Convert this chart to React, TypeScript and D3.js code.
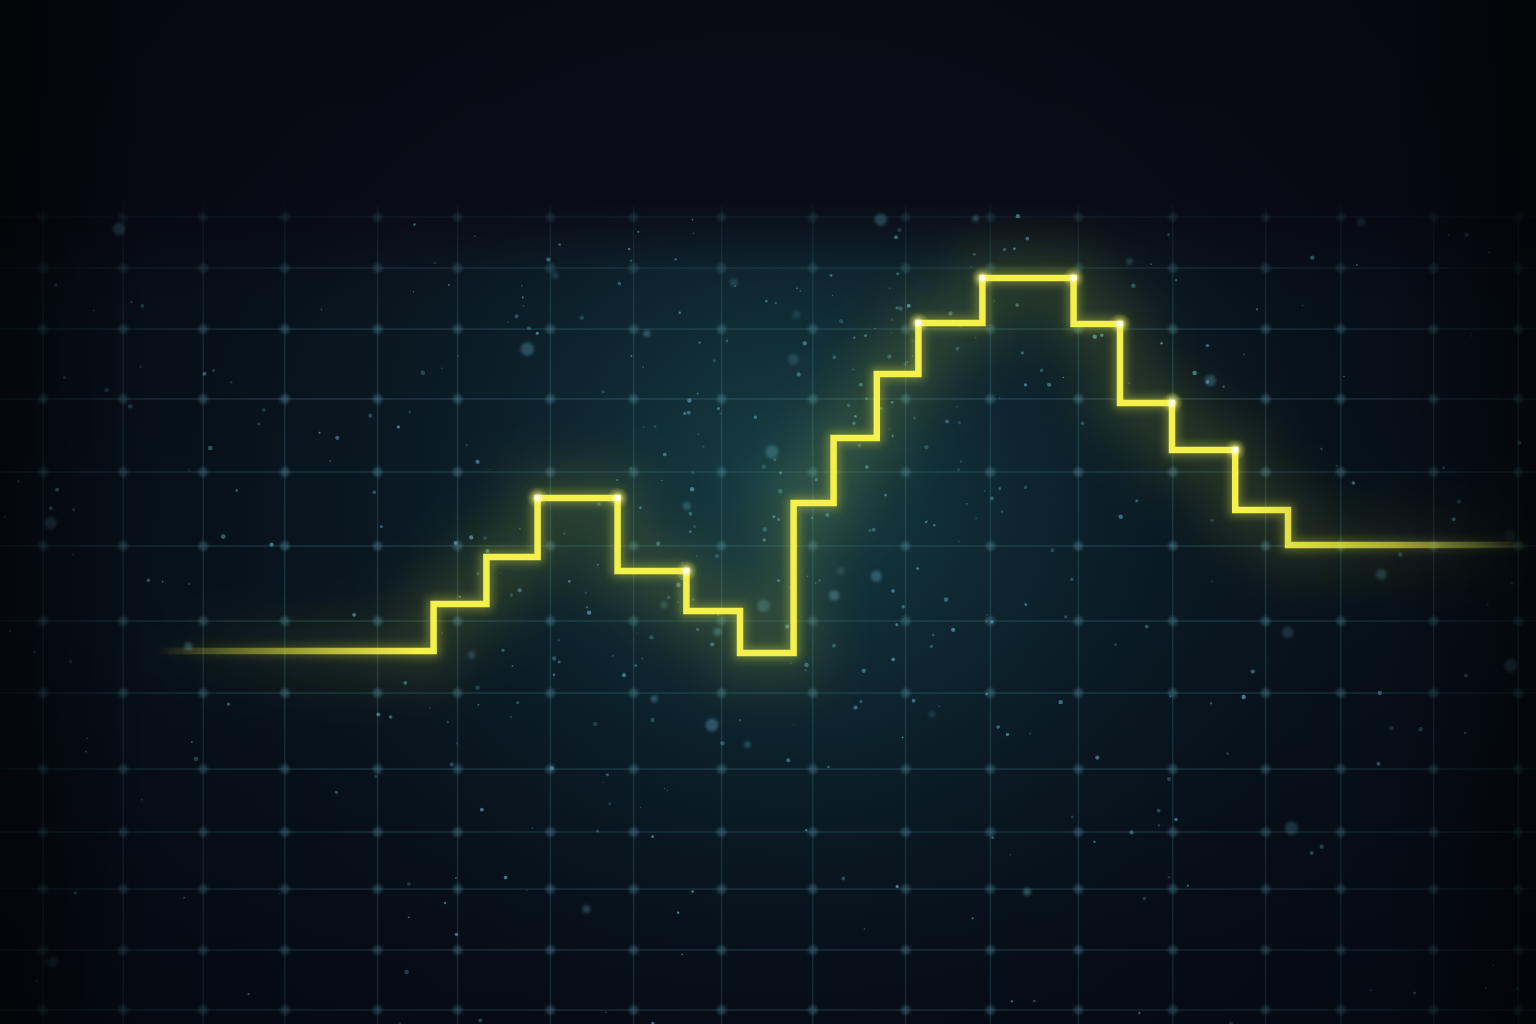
import React, { useMemo } from "react";
import * as d3 from "d3";

// ---- data (chart units) ----
const stepTimes = [9.7, 27.1, 30.4, 33.6, 38.6, 42.9, 46.25, 49.6, 52.1, 54.8, 57.4, 61.4, 67.1, 70.0, 73.25, 77.2, 80.5, 95.6];
const stepValues = [9.8, 19.2, 28.6, 40.4, 25.8, 17.8, 9.4, 39.4, 52.4, 65.2, 75.4, 84.4, 75.2, 59.4, 50.0, 38.0, 31.0, 31.0];
const highlightSteps = [3, 4, 5, 10, 11, 12, 13, 14, 15];
const gridTimes = [2.7, 7.7, 12.7, 17.8, 23.6, 28.6, 34.4, 39.6, 45.1, 50.8, 56.6, 61.9, 67.4, 73.3, 79.1, 83.8, 89.6, 94.9];
const gridValues = [96.6, 86.4, 74.2, 60.2, 45.6, 30.8, 15.8, 1.4, -13.8, -26.4, -37.8, -50.0, -62.0];

const W = 1536;
const H = 1024;

function mulberry32(a: number) {
  return function () {
    a |= 0;
    a = (a + 0x6d2b79f5) | 0;
    let t = Math.imul(a ^ (a >>> 15), 1 | a);
    t = (t + Math.imul(t ^ (t >>> 7), 61 | t)) ^ t;
    return ((t ^ (t >>> 14)) >>> 0) / 4294967296;
  };
}

export default function App() {
  const x = d3.scaleLinear().domain([0, 96]).range([0, W]);
  const y = d3.scaleLinear().domain([0, 100]).range([700, 200]);

  const pts = stepTimes.map((t, i) => [t, stepValues[i]] as [number, number]);
  const line = d3
    .line<[number, number]>()
    .x((d) => x(d[0]))
    .y((d) => y(d[1]))
    .curve(d3.curveStepAfter);
  const pathD = line(pts) || "";

  const dots = highlightSteps.map((i) => ({
    cx: x(stepTimes[i]),
    cy: y(Math.max(stepValues[i - 1], stepValues[i])),
  }));

  const gridTop = 205;

  // decorative particles (deterministic)
  const particles = useMemo(() => {
    const rnd = mulberry32(1234567);
    const out: { x: number; y: number; r: number; o: number; blur: boolean }[] = [];
    for (let i = 0; i < 460; i++) {
      let px = rnd() * W;
      let py = 215 + rnd() * (H - 215);
      if (rnd() < 0.5) {
        px = 780 + (rnd() + rnd() + rnd() - 1.5) * 420;
        py = 480 + (rnd() + rnd() + rnd() - 1.5) * 320;
      }
      const big = rnd() < 0.12;
      out.push({
        x: px,
        y: py,
        r: big ? 3 + rnd() * 4 : 0.6 + rnd() * 1.7,
        o: big ? 0.18 + rnd() * 0.25 : 0.25 + rnd() * 0.5,
        blur: big,
      });
    }
    return out.filter((p) => p.y > 215 && p.y < H);
  }, []);

  return (
    <svg
      width={W}
      height={H}
      viewBox={`0 0 ${W} ${H}`}
      style={{ position: "absolute", left: 0, top: 0, display: "block" }}
    >
      <defs>
        <linearGradient id="bgBase" x1="0" y1="0" x2="0" y2="1">
          <stop offset="0" stopColor="#090b15" />
          <stop offset="0.2" stopColor="#090c17" />
          <stop offset="0.3" stopColor="#08121c" />
          <stop offset="0.6" stopColor="#08131d" />
          <stop offset="1" stopColor="#060c16" />
        </linearGradient>
        <linearGradient id="topCover" x1="0" y1="0" x2="0" y2="1">
          <stop offset="0" stopColor="#090b15" stopOpacity="1" />
          <stop offset="0.72" stopColor="#090b16" stopOpacity="1" />
          <stop offset="1" stopColor="#090b16" stopOpacity="0" />
        </linearGradient>
        <radialGradient id="teal" cx="790" cy="480" r="580" gradientUnits="userSpaceOnUse">
          <stop offset="0" stopColor="#1d4f56" stopOpacity="0.75" />
          <stop offset="0.45" stopColor="#133640" stopOpacity="0.45" />
          <stop offset="1" stopColor="#0b1a24" stopOpacity="0" />
        </radialGradient>
        <radialGradient id="vign" cx="768" cy="560" r="900" gradientUnits="userSpaceOnUse">
          <stop offset="0.55" stopColor="#03060c" stopOpacity="0" />
          <stop offset="1" stopColor="#03060c" stopOpacity="0.65" />
        </radialGradient>
        <linearGradient id="gridFade" x1="0" y1="0" x2="0" y2="1">
          <stop offset="0.19" stopColor="#fff" stopOpacity="0" />
          <stop offset="0.21" stopColor="#fff" stopOpacity="0.4" />
          <stop offset="0.34" stopColor="#fff" stopOpacity="1" />
          <stop offset="1" stopColor="#fff" stopOpacity="0.85" />
        </linearGradient>
        <linearGradient id="gridFadeX" x1="0" y1="0" x2="1" y2="0">
          <stop offset="0" stopColor="#000" stopOpacity="0.45" />
          <stop offset="0.1" stopColor="#000" stopOpacity="0" />
          <stop offset="0.9" stopColor="#000" stopOpacity="0" />
          <stop offset="1" stopColor="#000" stopOpacity="0.45" />
        </linearGradient>
        <mask id="gridMask" maskUnits="userSpaceOnUse" x="0" y="0" width={W} height={H}>
          <rect x="0" y="0" width={W} height={H} fill="url(#gridFade)" />
        </mask>
        <linearGradient id="lineGrad" gradientUnits="userSpaceOnUse" x1={x(stepTimes[0])} y1="0" x2={x(stepTimes[stepTimes.length - 1])} y2="0">
          <stop offset="0" stopColor="#f3ef4a" stopOpacity="0" />
          <stop offset="0.08" stopColor="#e9e43f" stopOpacity="0.45" />
          <stop offset="0.19" stopColor="#f4f04c" stopOpacity="1" />
          <stop offset="0.8" stopColor="#f4f04c" stopOpacity="1" />
          <stop offset="0.9" stopColor="#e5e23c" stopOpacity="0.65" />
          <stop offset="1" stopColor="#e5e23c" stopOpacity="0" />
        </linearGradient>
        <linearGradient id="glowGrad" gradientUnits="userSpaceOnUse" x1={x(stepTimes[0])} y1="0" x2={x(stepTimes[stepTimes.length - 1])} y2="0">
          <stop offset="0" stopColor="#c9d63c" stopOpacity="0" />
          <stop offset="0.2" stopColor="#c9d63c" stopOpacity="0.85" />
          <stop offset="0.8" stopColor="#c9d63c" stopOpacity="0.85" />
          <stop offset="1" stopColor="#c9d63c" stopOpacity="0" />
        </linearGradient>
        <filter id="blurBig" x="-20%" y="-40%" width="140%" height="180%">
          <feGaussianBlur stdDeviation="26" />
        </filter>
        <filter id="blurMid" x="-10%" y="-20%" width="120%" height="140%">
          <feGaussianBlur stdDeviation="5" />
        </filter>
        <filter id="blurSmall" x="-50%" y="-50%" width="200%" height="200%">
          <feGaussianBlur stdDeviation="1.6" />
        </filter>
        <radialGradient id="dotGlow">
          <stop offset="0" stopColor="#fffbd0" stopOpacity="1" />
          <stop offset="0.35" stopColor="#f6f27a" stopOpacity="0.8" />
          <stop offset="1" stopColor="#e8e540" stopOpacity="0" />
        </radialGradient>
      </defs>

      {/* background */}
      <rect x="0" y="0" width={W} height={H} fill="url(#bgBase)" />
      <rect x="0" y="0" width={W} height={H} fill="url(#teal)" />
      <rect x="0" y="0" width={W} height={270} fill="url(#topCover)" />

      {/* grid */}
      <g mask="url(#gridMask)">
        {gridTimes.map((t, i) => (
          <line key={"gv" + i} x1={x(t)} x2={x(t)} y1={gridTop} y2={H} stroke="#3f7584" strokeOpacity="0.34" strokeWidth="1.4" />
        ))}
        {gridValues.map((v, i) => (
          <line key={"gh" + i} x1={0} x2={W} y1={y(v)} y2={y(v)} stroke="#3f7584" strokeOpacity="0.34" strokeWidth="1.4" />
        ))}
        <g filter="url(#blurSmall)">
          {gridTimes.map((t, i) =>
            gridValues.map((v, j) => (
              <circle key={"gd" + i + "-" + j} cx={x(t)} cy={y(v)} r="4.8" fill="#4c8797" fillOpacity="0.42" />
            ))
          )}
        </g>
      </g>

      {/* particles */}
      <g>
        {particles.map((p, i) => (
          <circle
            key={"p" + i}
            cx={p.x}
            cy={p.y}
            r={p.r}
            fill="#5c9fb3"
            fillOpacity={p.o}
            filter={p.blur ? "url(#blurSmall)" : undefined}
          />
        ))}
      </g>

      {/* edge vignette */}
      <rect x="0" y="0" width={W} height={H} fill="url(#vign)" />
      <rect x="0" y="0" width={W} height={H} fill="url(#gridFadeX)" />

      {/* line glow */}
      <path d={pathD} fill="none" stroke="url(#glowGrad)" strokeWidth="50" strokeOpacity="0.2" filter="url(#blurBig)" />
      <path d={pathD} fill="none" stroke="url(#glowGrad)" strokeWidth="12" strokeOpacity="0.5" filter="url(#blurMid)" />
      {/* main line */}
      <path d={pathD} fill="none" stroke="url(#lineGrad)" strokeWidth="6.5" strokeLinejoin="miter" strokeLinecap="butt" />

      {/* highlighted corners */}
      {dots.map((d, i) => (
        <g key={"dot" + i}>
          <circle cx={d.cx} cy={d.cy} r="11" fill="url(#dotGlow)" opacity="0.55" />
          <circle cx={d.cx} cy={d.cy} r="3.6" fill="#fffbd2" filter="url(#blurSmall)" />
          <circle cx={d.cx} cy={d.cy} r="2.6" fill="#fffde6" />
        </g>
      ))}
    </svg>
  );
}
